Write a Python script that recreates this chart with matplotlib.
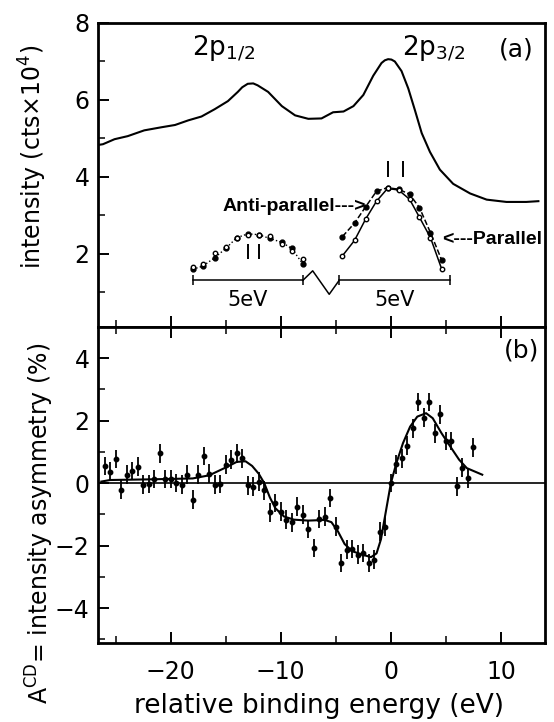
import matplotlib
matplotlib.use('Agg')
import matplotlib.pyplot as plt
from matplotlib.ticker import MultipleLocator

plt.rcParams['font.family'] = ['DejaVu Sans']
plt.rcParams['mathtext.default'] = 'regular'

# (a) total 2p spectrum
spec_e = [-26.6, -26.15, -25.1, -23.9, -22.4, -20.85, -19.6, -18.4, -17.2, -16.0, -14.8,
          -13.9, -13.5, -13.0, -12.5, -12.1, -11.15, -9.9, -8.7, -7.5, -6.3, -5.25, -4.3,
          -3.4, -2.5, -1.6, -0.85, -0.55, -0.25, 0.05, 0.36, 0.97, 1.58, 2.2, 2.8, 3.55,
          4.45, 5.66, 7.2, 8.7, 10.5, 12.3, 13.4]
spec_i = [4.83, 4.85, 4.98, 5.06, 5.21, 5.29, 5.35, 5.47, 5.57, 5.76, 5.97,
          6.21, 6.33, 6.42, 6.43, 6.38, 6.21, 5.84, 5.60, 5.51, 5.52, 5.68, 5.70,
          5.84, 6.13, 6.63, 6.96, 7.03, 7.06, 7.05, 7.00, 6.75, 6.30, 5.72, 5.14, 4.65,
          4.19, 3.82, 3.57, 3.41, 3.35, 3.35, 3.37]

# inset: 2p1/2 peak, spin anti-parallel / parallel
in1_e = [-18.0, -17.1, -16.0, -15.0, -14.0, -13.0, -12.0, -11.0, -9.9, -9.0, -8.0]
in1_ap = [1.60, 1.68, 1.90, 2.14, 2.42, 2.52, 2.50, 2.40, 2.30, 2.14, 1.74]
in1_p = [1.65, 1.73, 2.02, 2.18, 2.40, 2.50, 2.49, 2.46, 2.26, 2.08, 1.86]

# inset: 2p3/2 peak
in2_e = [-4.4, -3.3, -2.3, -1.3, -0.3, 0.7, 1.7, 2.6, 3.6, 4.6]
in2_ap = [2.45, 2.80, 3.22, 3.63, 3.72, 3.68, 3.55, 3.20, 2.55, 1.85]
in2_p = [1.95, 2.35, 2.90, 3.37, 3.70, 3.66, 3.42, 2.95, 2.42, 1.62]

# scale bars of the inset
bar1_x = [-18.0, -8.0]
bar2_x = [-4.7, 5.4]
bar_y = 1.31
brk_x = [-8.0, -7.1, -5.6, -4.7]
brk_y = [1.31, 1.56, 0.95, 1.31]

# (b) circular dichroism asymmetry
cd_e = [-26.0, -25.5, -25.0, -24.5, -24.0, -23.5, -23.0, -22.5, -22.0, -21.5, -21.0,
        -20.5, -20.0, -19.5, -19.0, -18.5, -18.0, -17.5, -17.0, -16.5, -16.0, -15.5,
        -15.0, -14.5, -14.0, -13.5, -13.0, -12.5, -12.0, -11.5, -11.0, -10.5, -10.0,
        -9.5, -9.0, -8.5, -8.0, -7.5, -7.0, -6.5, -6.0, -5.5, -5.0, -4.5, -4.0, -3.5,
        -3.0, -2.5, -2.0, -1.5, -1.0, -0.5, 0.0, 0.5, 1.0, 1.5, 2.0, 2.5, 3.0, 3.5,
        4.0, 4.5, 5.0, 5.5, 6.0, 6.5, 7.0, 7.5]
cd_a = [0.55, 0.37, 0.77, -0.21, 0.27, 0.39, 0.53, -0.05, -0.03, 0.13, 0.96,
        0.13, 0.13, 0.00, -0.05, 0.27, -0.53, 0.27, 0.87, 0.30, -0.05, -0.03,
        0.59, 0.75, 0.96, 0.80, -0.07, -0.11, 0.05, -0.23, -0.94, -0.64, -0.91,
        -1.17, -1.26, -0.75, -1.01, -1.47, -2.08, -1.15, -1.07, -0.48, -1.40, -2.56, -2.13, -2.11,
        -2.29, -2.24, -2.56, -2.45, -1.55, -1.39, 0.00, 0.60, 0.80, 1.20, 1.75, 2.60, 2.10, 2.60,
        1.60, 2.20, 1.35, 1.35, -0.10, 0.50, 0.15, 1.15]
cd_err = 0.3

fit_e = [-26.3, -25.5, -22.0, -18.0, -16.5, -15.0, -14.0, -13.2, -12.6, -12.0, -11.5,
         -11.0, -10.5, -9.7, -8.8, -7.5, -6.0, -5.4, -4.8, -4.2, -3.5, -2.7, -1.8,
         -1.3, -0.9, -0.5, 0.0, 0.5, 1.1, 1.75, 2.4, 3.2, 3.8, 4.6, 5.4, 6.2, 6.9, 8.3]
fit_a = [0.05, 0.10, 0.12, 0.15, 0.25, 0.50, 0.68, 0.70, 0.55, 0.30, 0.00,
         -0.45, -0.80, -1.07, -1.17, -1.20, -1.18, -1.25, -1.55, -1.95, -2.18, -2.28, -2.37,
         -2.25, -1.80, -1.00, 0.00, 0.64, 1.28, 1.81, 2.13, 2.24, 2.08, 1.60, 1.17, 0.75, 0.48, 0.27]

W, H = 554, 722
fig = plt.figure(figsize=(W / 100, H / 100), dpi=100)
ax1 = fig.add_axes([98 / W, (H - 327) / H, 447 / W, 304 / H])
ax2 = fig.add_axes([98 / W, (H - 643) / H, 447 / W, 316 / H])

for ax in (ax1, ax2):
    ax.set_xlim(-26.6, 14.0)
    ax.xaxis.set_major_locator(MultipleLocator(10))
    ax.xaxis.set_minor_locator(MultipleLocator(5))
    ax.yaxis.set_minor_locator(MultipleLocator(1))
    ax.tick_params(which='major', direction='in', length=8, width=1.4, labelsize=17, pad=6)
    ax.tick_params(which='minor', direction='in', length=5, width=1.1)
    ax.tick_params(axis='x', pad=12)
    for s in ax.spines.values():
        s.set_linewidth(2.0)
ax2.tick_params(axis='x', which='both', top=True)

# ---- panel (a)
ax1.plot(spec_e, spec_i, color='black', lw=1.5)
ax1.set_ylim(0.1, 8.0)
ax1.set_yticks([2, 4, 6, 8])
ax1.tick_params(axis='x', labelbottom=False)
ax1.set_ylabel('intensity (cts×10$^4$)', fontsize=17, va='center')
ax1.yaxis.set_label_coords(-0.145, 0.56)

ax1.plot(in1_e, in1_ap, ls=':', color='black', lw=1.0, marker='o', ms=3.5, mfc='black')
ax1.plot(in1_e, in1_p, ls='none', color='black', marker='o', ms=3.2, mfc='white', mew=1.0)
ax1.plot(in2_e, in2_ap, ls='--', color='black', lw=1.1, marker='o', ms=3.5, mfc='black')
ax1.plot(in2_e, in2_p, ls='-', color='black', lw=1.1, marker='o', ms=3.2, mfc='white', mew=1.0)

# double tick marks above the inset peaks
ax1.vlines([-13.0, -12.0], 1.88, 2.25, color='black', lw=1.4)
ax1.vlines([-0.25, 1.06], 3.99, 4.41, color='black', lw=1.4)

# 5 eV scale bars with break
ax1.plot(bar1_x, [bar_y, bar_y], color='black', lw=1.1)
ax1.plot(bar2_x, [bar_y, bar_y], color='black', lw=1.1)
ax1.plot(brk_x, brk_y, color='black', lw=1.1)
ax1.vlines(bar1_x + bar2_x, bar_y - 0.13, bar_y + 0.13, color='black', lw=1.1)
ax1.text(sum(bar1_x) / 2, 0.8, '5eV', ha='center', va='center', fontsize=15)
ax1.text(sum(bar2_x) / 2, 0.8, '5eV', ha='center', va='center', fontsize=15)

ax1.text(-2.3, 3.22, 'Anti-parallel--->', ha='right', va='center', fontsize=14,
         family=['Liberation Sans', 'DejaVu Sans'], weight='bold')
ax1.text(4.7, 2.38, '<---Parallel', ha='left', va='center', fontsize=14,
         family=['Liberation Sans', 'DejaVu Sans'], weight='bold')

ax1.text(-15.2, 7.35, '2p$_{1/2}$', ha='center', va='center', fontsize=19)
ax1.text(3.9, 7.35, '2p$_{3/2}$', ha='center', va='center', fontsize=19)
ax1.text(11.4, 7.3, '(a)', ha='center', va='center', fontsize=18)

# ---- panel (b)
ax2.axhline(0, color='black', lw=1.2)
ax2.errorbar(cd_e, cd_a, yerr=cd_err, fmt='o', color='black', ms=3.2, elinewidth=1.3, capsize=0)
ax2.plot(fit_e, fit_a, color='black', lw=1.5)
ax2.set_ylim(-5.12, 5.0)
ax2.set_yticks([-4, -2, 0, 2, 4])
ax2.set_xticks([-20, -10, 0, 10])
ax2.set_xlabel('relative binding energy (eV)', fontsize=19, va='center')
ax2.xaxis.set_label_coords(0.494, -0.2)
ax2.set_ylabel('A$^{CD}$= intensity asymmetry (%)', fontsize=17, va='center')
ax2.yaxis.set_label_coords(-0.13, 0.377)
ax2.text(11.9, 4.26, '(b)', ha='center', va='center', fontsize=18)

fig.savefig('out.png', dpi=100)
